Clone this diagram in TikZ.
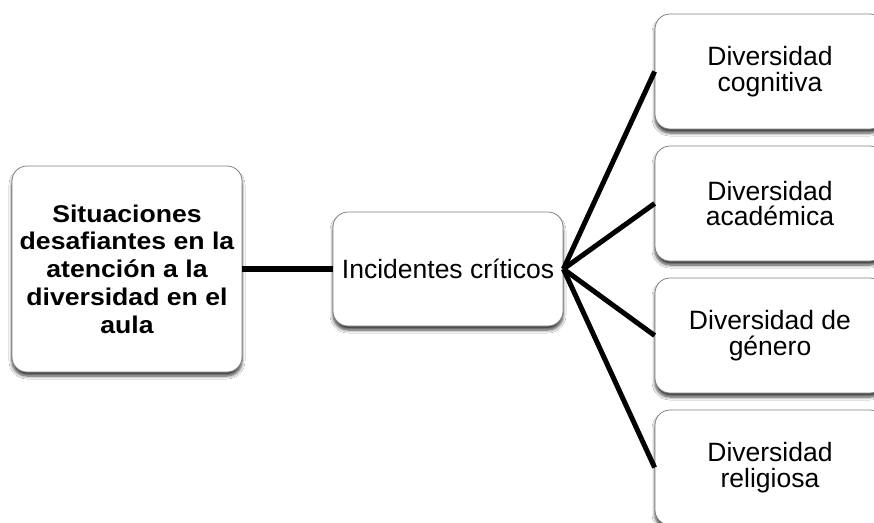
\documentclass[tikz,border=0pt]{standalone}
\usepackage{fontspec}
\setmainfont{Liberation Sans}
\newfontfamily\widebold[FakeStretch=1.1]{Liberation Sans Bold}
\usetikzlibrary{shadows.blur}
\begin{document}
\begin{tikzpicture}[x=1pt,y=-1pt,
  box/.style={draw=black!50, line width=0.8pt, fill=white, rounded corners=15pt,
    minimum width=230pt, align=center, inner sep=4pt,
    font=\fontsize{26.5}{25.5}\selectfont,
    blur shadow={shadow xshift=0pt, shadow yshift=-4pt, shadow blur steps=6, shadow opacity=75, shadow blur radius=3pt}},
  conn/.style={line width=5pt, black}]
\clip (0,0) rectangle (874,522);
\fill[white] (0,0) rectangle (874,522);
\node[box, minimum height=206pt, font=\widebold\fontsize{24.2}{27.7}\selectfont] (s) at (127,269)
  {Situaciones\\desafiantes en la\\atención a la\\diversidad en el\\aula};
\node[box, minimum height=114pt] (i) at (448,269) {Incidentes críticos};
\node[box, minimum height=115pt] (c) at (770,71.5) {Diversidad\\cognitiva};
\node[box, minimum height=115pt] (a) at (770,203.5) {Diversidad\\académica};
\node[box, minimum height=115pt] (g) at (770,335.5) {Diversidad de\\género};
\node[box, minimum height=115pt] (r) at (770,467.5) {Diversidad\\religiosa};
\draw[conn, line width=6pt] (s.east) -- (i.west);
\foreach \t in {c,a,g,r} \draw[conn] (i.east) -- (\t.west);
\end{tikzpicture}
\end{document}
